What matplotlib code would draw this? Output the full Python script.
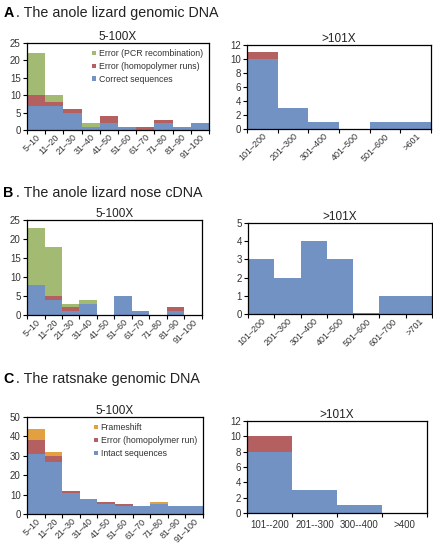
import matplotlib
matplotlib.use("Agg")
import matplotlib.pyplot as plt
import numpy as np

plt.rcParams["font.family"] = ["Liberation Sans", "DejaVu Sans"]

# ── Data ─────────────────────────────────────────────────────────────
low_bins = ["5\u201310", "11\u201320", "21\u201330", "31\u201340", "41\u201350",
            "51\u201360", "61\u201370", "71\u201380", "81\u201390", "91\u2013100"]

# A. anole lizard genomic DNA
a_low_correct = [7, 7, 5, 1, 2, 1, 0, 2, 1, 2]
a_low_homo    = [3, 1, 1, 0, 2, 0, 1, 1, 0, 0]
a_low_pcr     = [12, 2, 0, 1, 0, 0, 0, 0, 0, 0]
a_high_bins    = ["101\u2013200", "201\u2013300", "301\u2013400", "401\u2013500", "501\u2013600", ">601"]
a_high_correct = [10, 3, 1, 0, 1, 1]
a_high_homo    = [1, 0, 0, 0, 0, 0]

# B. anole lizard nose cDNA
b_low_correct = [8, 4, 1, 3, 0, 5, 1, 0, 1, 0]
b_low_homo    = [0, 1, 1, 0, 0, 0, 0, 0, 1, 0]
b_low_pcr     = [15, 13, 1, 1, 0, 0, 0, 0, 0, 0]
b_high_bins    = ["101\u2013200", "201\u2013300", "301\u2013400", "401\u2013500", "501\u2013600",
                  "601\u2013700", ">701"]
b_high_correct = [3, 2, 4, 3, 0.05, 1, 1]

# C. ratsnake genomic DNA
c_low_intact = [31, 27, 11, 8, 5, 4, 4, 5, 4, 4]
c_low_homo   = [7, 3, 1, 0, 1, 1, 0, 0, 0, 0]
c_low_frame  = [6, 2, 0, 0, 0, 0, 0, 1, 0, 0]
c_high_bins   = ["101--200", "201--300", "300--400", ">400"]
c_high_intact = [8, 3, 1, 0]
c_high_homo   = [2, 0, 0, 0]

COLORS = {
    "blue":   "#7192c3",
    "red":    "#b45f60",
    "green":  "#a2ba72",
    "orange": "#e2a040",
}
TXT = "#333333"


def stacked(ax, labels, layers, ymax, ystep, title, rotate=True, legend=None):
    x = np.arange(len(labels))
    bottom = np.zeros(len(labels))
    handles = []
    for vals, color, name in layers:
        vals = np.asarray(vals, dtype=float)
        h = ax.bar(x, vals, width=1.0, bottom=bottom, color=color,
                   edgecolor="none", label=name)
        handles.append(h)
        bottom += vals
    ax.set_xlim(-0.5, len(labels) - 0.5)
    ax.set_ylim(0, ymax)
    ax.set_yticks(np.arange(0, ymax + 0.01, ystep))
    ax.set_xticks(x)
    ax.set_xticks(np.arange(-0.5, len(labels), 1.0), minor=True)
    ax.tick_params(axis="x", which="major", length=0, pad=2)
    ax.tick_params(axis="x", which="minor", length=3, width=0.8, direction="out")
    ax.tick_params(axis="y", length=3, width=0.8, direction="out", pad=1.5,
                   labelsize=7, labelcolor=TXT)
    if rotate:
        ax.set_xticklabels(labels, rotation=45, ha="right", rotation_mode="anchor",
                           fontsize=6.5, color=TXT)
    else:
        ax.set_xticklabels(labels, fontsize=7, color=TXT)
        ax.tick_params(axis="x", which="major", pad=5)
    for s in ax.spines.values():
        s.set_linewidth(0.9)
        s.set_color("black")
    ax.set_title(title, fontsize=8.5, pad=2, color="#222222")
    if legend:
        ax.legend(handles=handles[::-1], loc="upper right", frameon=False,
                  fontsize=6.3, handlelength=0.45, handleheight=0.45,
                  handletextpad=0.3, labelspacing=0.45, borderaxespad=0.3,
                  labelcolor=TXT)


fig = plt.figure(figsize=(4.33, 5.48), dpi=100)

# ── Panel A ──────────────────────────────────────────────────────────
ax = fig.add_axes([0.0624, 0.7628, 0.420, 0.1588])
stacked(ax, low_bins,
        [(a_low_correct, COLORS["blue"], "Correct sequences"),
         (a_low_homo, COLORS["red"], "Error (homopolymer runs)"),
         (a_low_pcr, COLORS["green"], "Error (PCR recombination)")],
        25, 5, "5-100X", legend=True)
ax = fig.add_axes([0.5704, 0.7646, 0.425, 0.1533])
stacked(ax, a_high_bins,
        [(a_high_correct, COLORS["blue"], "Correct"),
         (a_high_homo, COLORS["red"], "Homopolymer")],
        12, 2, ">101X")

# ── Panel B ──────────────────────────────────────────────────────────
ax = fig.add_axes([0.0624, 0.4252, 0.404, 0.1734])
stacked(ax, low_bins,
        [(b_low_correct, COLORS["blue"], "Correct sequences"),
         (b_low_homo, COLORS["red"], "Error (homopolymer runs)"),
         (b_low_pcr, COLORS["green"], "Error (PCR recombination)")],
        25, 5, "5-100X")
ax = fig.add_axes([0.5727, 0.427, 0.425, 0.166])
stacked(ax, b_high_bins,
        [(b_high_correct, COLORS["blue"], "Correct")],
        5, 1, ">101X")

# ── Panel C ──────────────────────────────────────────────────────────
ax = fig.add_axes([0.0624, 0.062, 0.4065, 0.177])
stacked(ax, low_bins,
        [(c_low_intact, COLORS["blue"], "Intact sequences"),
         (c_low_homo, COLORS["red"], "Error (homopolymer run)"),
         (c_low_frame, COLORS["orange"], "Frameshift")],
        50, 10, "5-100X", legend=True)
ax = fig.add_axes([0.5704, 0.0639, 0.4157, 0.168])
stacked(ax, c_high_bins,
        [(c_high_intact, COLORS["blue"], "Intact"),
         (c_high_homo, COLORS["red"], "Homopolymer")],
        12, 2, ">101X", rotate=False)

# ── Panel headers ────────────────────────────────────────────────────
for letter, text, y in [("A", ". The anole lizard genomic DNA", 0.977),
                        ("B", ". The anole lizard nose cDNA", 0.647),
                        ("C", ". The ratsnake genomic DNA", 0.309)]:
    fig.text(0.008, y, letter, fontsize=10.3, fontweight="bold", va="center")
    fig.text(0.036, y, text, fontsize=10.3, va="center", color="#222222")

fig.savefig("out.png", dpi=100, facecolor="white")
